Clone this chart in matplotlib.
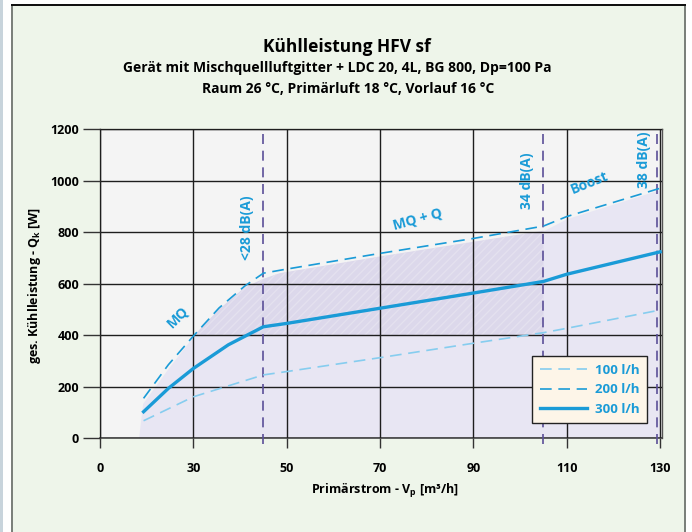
import matplotlib
matplotlib.use("Agg")
import matplotlib.pyplot as plt
from matplotlib.patches import Rectangle
import numpy as np

plt.rcParams["font.family"] = ["Open Sans", "DejaVu Sans"]
plt.rcParams["font.weight"] = "bold"
plt.rcParams["mathtext.fontset"] = "custom"
plt.rcParams["mathtext.bf"] = "Open Sans:bold"
plt.rcParams["mathtext.rm"] = "Open Sans:bold"

# x axis is not linear: tick labels are equally spaced
X_TICKS = [0, 30, 50, 70, 90, 110, 130]
Y_TICKS = [0, 200, 400, 600, 800, 1000, 1200]

# curves (Primärstrom m3/h -> Kühlleistung W)
x_300 = [14, 22, 30, 37.5, 45, 50, 70, 90, 105, 110, 130]
q_300 = [102, 193, 270, 362, 432, 445, 504, 563, 608, 636, 723]

x_200 = [14, 22, 30, 35.5, 41, 45, 50, 70, 90, 105, 110, 130]
q_200 = [154, 285, 396, 505, 590, 640, 656, 717, 775, 823, 860, 970]

x_100 = [14, 30, 45, 50, 70, 90, 105, 110, 130]
q_100 = [67, 160, 245, 258, 312, 368, 409, 426, 497]

# operating range (shaded)
x_area = [12.4, 13.7, 22, 30, 35.5, 41, 45, 48.5, 70, 90, 105, 110, 130]
q_area = [0, 134, 272, 396, 500, 585, 618, 640, 705, 762, 805, 852, 965]

# noise limits
x_noise = [45, 105, 129.3]
noise_labels = ["<28 dB(A)", "34 dB(A)", "38 dB(A)"]

BLUE = "#1a9bd7"
LIGHT_BLUE = "#86cdef"
PURPLE = "#5b4f98"


def fwd(v):
    v = np.asarray(v, dtype=float)
    return np.interp(v, X_TICKS, np.arange(len(X_TICKS))) \
        + np.where(v > 130, (v - 130) / 20.0, 0)


def inv(p):
    p = np.asarray(p, dtype=float)
    return np.interp(p, np.arange(len(X_TICKS)), X_TICKS) \
        + np.where(p > 6, (p - 6) * 20.0, 0)


fig = plt.figure(figsize=(6.92, 5.32), dpi=100)
W, H = 692, 532

# page frame
def frame_rect(x, y, w, h, color):
    fig.patches.append(Rectangle((x / W, y / H), w / W, h / H,
                                 transform=fig.transFigure, facecolor=color,
                                 edgecolor="none", zorder=-5))

frame_rect(0, 0, 3, H, "#c8d4dc")
frame_rect(11, 0, 675, H - 4, "#eef5ea")
frame_rect(11, 0, 2.5, H - 4, "#7b807b")
frame_rect(683.5, 0, 2.5, H - 4, "#7b807b")
frame_rect(11, H - 5.5, 675, 1.5, "#111111")

ax = fig.add_axes([100 / W, 1 - 438 / H, 562 / W, 309 / H])
ax.set_zorder(2)
ax.set_facecolor("#f4f4f4")
ax.set_xscale("function", functions=(fwd, inv))
ax.set_xlim(0, 130.4)
ax.set_ylim(0, 1200)

# shaded range
ax.fill_between(x_area, 0, q_area, color="#e8e6f3", lw=0, zorder=1)
xa = np.array(x_area)
qa = np.array(q_area)
mask = (xa >= 30) & (xa <= 105)
ax.fill_between(xa[mask], 400, qa[mask], facecolor="#dcd8eb", lw=0, zorder=1,
                hatch="////", edgecolor="#e4e1ef")

ax.set_xticks(X_TICKS)
ax.set_yticks(Y_TICKS)
ax.grid(True, color="#1e1e1e", lw=1.0, zorder=2)
ax.set_axisbelow(False)
ax.tick_params(axis="y", length=12, width=1, color="#333333", pad=3, labelsize=9)
ax.tick_params(axis="x", length=7, width=1, color="#333333", pad=10, labelsize=9)
for s in ["left", "right", "top"]:
    ax.spines[s].set_color("#555555")
    ax.spines[s].set_linewidth(1)
ax.spines["bottom"].set_color("#444444")
ax.spines["bottom"].set_linewidth(1.2)

# noise limit lines
ax.vlines(x_noise, -25, 1200, colors=PURPLE, linestyles=(0, (6, 4)), lw=1.2,
          clip_on=False, zorder=4)

ax.plot(x_100, q_100, color=LIGHT_BLUE, lw=1.2, ls=(0, (7, 4)), zorder=5,
        label="100 l/h")
ax.plot(x_200, q_200, color=BLUE, lw=1.2, ls=(0, (7, 4)), zorder=5,
        label="200 l/h")
ax.plot(x_300, q_300, color=BLUE, lw=2.4, zorder=5, label="300 l/h")

# annotations
ax.text(41.4, 815, noise_labels[0], rotation=90, color=BLUE, fontsize=10,
        ha="center", va="center", zorder=6)
ax.text(101.5, 1000, noise_labels[1], rotation=90, color=BLUE, fontsize=10,
        ha="center", va="center", zorder=6)
ax.text(126.6, 1080, noise_labels[2], rotation=90, color=BLUE, fontsize=10,
        ha="center", va="center", zorder=6)
ax.text(25.0, 470, "MQ", rotation=45, color=BLUE, fontsize=10,
        ha="center", va="center", zorder=6)
ax.text(78, 850, "MQ + Q", rotation=15, color=BLUE, fontsize=10,
        ha="center", va="center", zorder=6)
ax.text(115, 990, "Boost", rotation=22, color=BLUE, fontsize=10,
        ha="center", va="center", zorder=6)

leg = ax.legend(loc="lower right", bbox_to_anchor=(0.973, 0.0485), fontsize=9.5,
                frameon=True, fancybox=False, handlelength=3.6,
                borderpad=0.55, labelspacing=0.5, handletextpad=0.6,
                borderaxespad=0)
leg.get_frame().set_facecolor("#fdf5e8")
leg.get_frame().set_edgecolor("#222222")
leg.get_frame().set_alpha(1)
leg.set_zorder(7)
for t in leg.get_texts():
    t.set_color(BLUE)

fig.text(347 / W, 1 - 47 / H, "Kühlleistung HFV sf", fontsize=12.5,
         ha="center", va="center")
fig.text(337 / W, 1 - 68 / H,
         "Gerät mit Mischquellluftgitter + LDC 20, 4L, BG 800, Dp=100 Pa",
         fontsize=10, ha="center", va="center")
fig.text(348 / W, 1 - 89 / H, "Raum 26 °C, Primärluft 18 °C, Vorlauf 16 °C",
         fontsize=10, ha="center", va="center")

fig.text(35 / W, 1 - 285 / H, r"ges. Kühlleistung - Q$_\mathbf{k}$ [W]",
         rotation=90, fontsize=9, ha="center", va="center")
fig.text(385 / W, 1 - 491 / H, r"Primärstrom - V$_\mathbf{p}$ [m³/h]",
         fontsize=9, ha="center", va="center")

fig.savefig("out.png", dpi=100, facecolor="white")
